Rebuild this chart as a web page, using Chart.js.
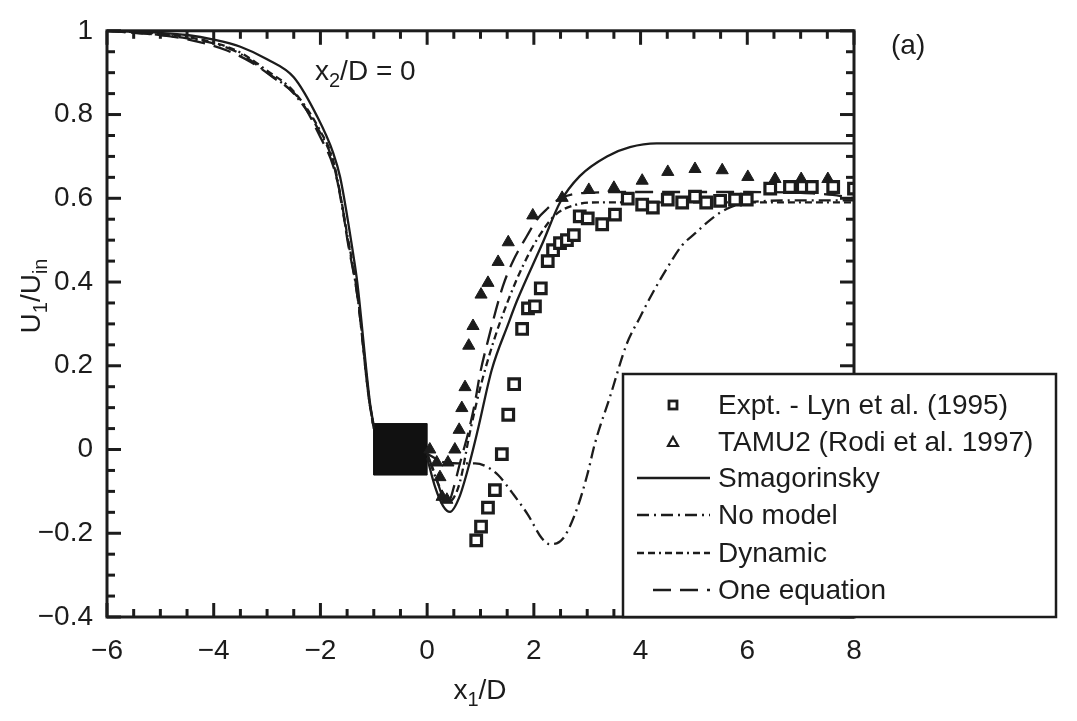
<!DOCTYPE html>
<html>
<head>
<meta charset="utf-8">
<script src="https://cdn.jsdelivr.net/npm/chart.js@4.4.1/dist/chart.umd.min.js"></script>
<style>
  html, body { margin: 0; padding: 0; background: #fff; }
  #wrap { width: 1077px; height: 721px; }
</style>
</head>
<body>
<div id="wrap"><canvas id="c" width="1077" height="721"></canvas></div>
<script>
// tick labels
const xTicks = [-6, -4, -2, 0, 2, 4, 6, 8];
const yTicks = [-0.4, -0.2, 0, 0.2, 0.4, 0.6, 0.8, 1];

// Expt. - Lyn et al. (1995)
const exptX = [0.92, 1.01, 1.14, 1.27, 1.40, 1.52, 1.63, 1.78, 1.89, 2.02, 2.13, 2.26, 2.36, 2.49, 2.62, 2.75, 2.86, 3.01,
  3.28, 3.52, 3.76, 4.03, 4.23, 4.51, 4.78, 5.02, 5.23, 5.49, 5.77, 5.99, 6.43, 6.80, 7.04, 7.21, 7.61, 8.0];
const exptY = [-0.217, -0.184, -0.139, -0.097, -0.011, 0.083, 0.156, 0.288, 0.337, 0.342, 0.385, 0.45, 0.476, 0.493, 0.50, 0.512, 0.557, 0.552,
  0.538, 0.561, 0.599, 0.585, 0.578, 0.597, 0.59, 0.604, 0.59, 0.594, 0.597, 0.597, 0.623, 0.627, 0.627, 0.627, 0.627, 0.623];

// TAMU2 (Rodi et al. 1997)
const tamuX = [0.05, 0.18, 0.24, 0.28, 0.37, 0.39, 0.52, 0.60, 0.65, 0.71, 0.78, 0.86, 1.01, 1.14, 1.33, 1.52, 1.98, 2.53,
  3.03, 3.50, 4.03, 4.51, 5.02, 5.53, 6.01, 6.52, 7.01, 7.51];
const tamuY = [0.0, -0.031, -0.066, -0.113, -0.12, -0.031, 0.0, 0.047, 0.099, 0.149, 0.248, 0.295, 0.37, 0.398, 0.448, 0.495, 0.559, 0.601,
  0.62, 0.625, 0.642, 0.663, 0.67, 0.667, 0.651, 0.646, 0.646, 0.646];

// Smagorinsky (null = gap across the cylinder)
const smagX = [-6, -5, -4.5, -4, -3.5, -3, -2.5, -2.06, -1.76, -1.63, -1.39, -1.31, -1.07, -1.0, -0.5,
  0, 0.15, 0.3, 0.43, 0.6, 0.8, 0.95, 1.21, 1.52, 1.68, 2.17, 2.49, 2.86, 3.37, 3.8, 4.3, 6, 8];
const smagY = [1.0, 0.995, 0.99, 0.979, 0.962, 0.932, 0.889, 0.795, 0.708, 0.65, 0.47, 0.40, 0.11, 0.057, null,
  -0.02, -0.09, -0.135, -0.149, -0.115, -0.03, 0.047, 0.19, 0.30, 0.354, 0.495, 0.59, 0.653, 0.70, 0.722, 0.731, 0.731, 0.731];

// No model
const noModelX = [-6, -5, -4.5, -4, -3.5, -3, -2.5, -2, -1.75, -1.5, -1.3, -1.1, -1.0, -0.5,
  0, 0.3, 0.6, 0.9, 1.1, 1.33, 1.61, 1.89, 2.15, 2.3, 2.55, 2.81, 3.0, 3.15, 3.43, 3.74, 3.99, 4.18, 4.51, 4.78, 5.02, 5.36, 5.62, 6.0, 7, 8];
const noModelY = [1.0, 0.99, 0.982, 0.97, 0.945, 0.9, 0.85, 0.755, 0.68, 0.51, 0.36, 0.13, 0.05, null,
  -0.01, -0.03, -0.033, -0.033, -0.04, -0.061, -0.106, -0.156, -0.212, -0.226, -0.212, -0.141, -0.061, 0.017, 0.127, 0.252, 0.316, 0.363, 0.436, 0.488, 0.516, 0.554, 0.575, 0.59, 0.595, 0.595];

// Dynamic
const dynX = [-6, -5, -4.5, -4, -3.5, -3, -2.5, -2, -1.75, -1.5, -1.3, -1.1, -1.0, -0.5,
  0, 0.2, 0.4, 0.5, 0.62, 0.8, 1.0, 1.25, 1.5, 1.8, 2.1, 2.4, 2.8, 3.2, 5, 8];
const dynY = [1.0, 0.993, 0.985, 0.972, 0.948, 0.905, 0.855, 0.76, 0.685, 0.515, 0.365, 0.135, 0.05, null,
  -0.01, -0.08, -0.125, -0.115, -0.075, 0.04, 0.15, 0.26, 0.35, 0.44, 0.51, 0.56, 0.585, 0.59, 0.59, 0.59];

// One equation
const oneEqX = [-6, -5.5, -5, -4.5, -3.75, -3.3, -2.89, -2.38, -2.01, -1.76, -1.6, -1.5, -1.3, -1.1, -1.0, -0.5,
  0, 0.15, 0.3, 0.4, 0.5, 0.6, 0.67, 0.77, 0.9, 0.99, 1.14, 1.42, 1.61, 1.87, 2.06, 2.25, 2.5, 3.0, 4, 5, 6, 7, 7.6, 8];
const oneEqY = [1.0, 0.995, 0.99, 0.98, 0.953, 0.925, 0.889, 0.835, 0.748, 0.677, 0.59, 0.505, 0.36, 0.13, 0.05, null,
  -0.01, -0.06, -0.115, -0.125, -0.09, -0.04, -0.007, 0.04, 0.115, 0.18, 0.26, 0.39, 0.45, 0.51, 0.55, 0.575, 0.60, 0.613, 0.615, 0.615, 0.615, 0.613, 0.608, 0.60];

// the square cylinder
const cylX = [-1, 0, 0, -1, -1];
const cylY = [-0.061, -0.061, 0.062, 0.062, -0.061];

const FONT = '"Liberation Sans", Arial, Helvetica, sans-serif';
const INK = '#1c1c1c';

function pts(xs, ys) {
  return xs.map((x, i) => ({ x: x, y: ys[i] }));
}

function lineSet(label, xs, ys, dash) {
  return {
    label: label,
    data: pts(xs, ys),
    showLine: true,
    borderColor: INK,
    borderWidth: 2.3,
    borderDash: dash,
    pointRadius: 0,
    fill: false,
    spanGaps: false,
    cubicInterpolationMode: 'monotone'
  };
}

function fmt(v) {
  const s = String(Math.round(Math.abs(v) * 100) / 100);
  return v < 0 ? '\u2212' + s : s;
}

// text with subscripts: parts = [[text, isSub], ...]
function drawParts(ctx, parts, x, y, size, align) {
  const subSize = Math.round(size * 0.7);
  let w = 0;
  parts.forEach(p => {
    ctx.font = (p[1] ? subSize : size) + 'px ' + FONT;
    w += ctx.measureText(p[0]).width;
  });
  let cx = align === 'center' ? x - w / 2 : x;
  ctx.textAlign = 'left';
  ctx.textBaseline = 'alphabetic';
  parts.forEach(p => {
    ctx.font = (p[1] ? subSize : size) + 'px ' + FONT;
    ctx.fillText(p[0], cx, p[1] ? y + size * 0.25 : y);
    cx += ctx.measureText(p[0]).width;
  });
}

const framePlugin = {
  id: 'frame',
  afterDraw(chart) {
    const ctx = chart.ctx;
    const a = chart.chartArea;
    const xs = chart.scales.x, ys = chart.scales.y;
    ctx.save();
    ctx.strokeStyle = INK;
    ctx.fillStyle = INK;

    // ticks inward on all four sides
    ctx.lineWidth = 3;
    const xMinor = [];
    for (let i = 0; i < xTicks.length - 1; i++) {
      const step = (xTicks[i + 1] - xTicks[i]) / 4;
      for (let k = 1; k < 4; k++) xMinor.push(xTicks[i] + k * step);
    }
    const yMinor = [];
    for (let i = 0; i < yTicks.length - 1; i++) {
      const step = (yTicks[i + 1] - yTicks[i]) / 4;
      for (let k = 1; k < 4; k++) yMinor.push(yTicks[i] + k * step);
    }
    const tick = (x1, y1, x2, y2) => { ctx.beginPath(); ctx.moveTo(x1, y1); ctx.lineTo(x2, y2); ctx.stroke(); };
    xTicks.forEach(v => { const p = xs.getPixelForValue(v); tick(p, a.bottom, p, a.bottom - 14); tick(p, a.top, p, a.top + 14); });
    xMinor.forEach(v => { const p = xs.getPixelForValue(v); tick(p, a.bottom, p, a.bottom - 8); tick(p, a.top, p, a.top + 8); });
    yTicks.forEach(v => { const p = ys.getPixelForValue(v); tick(a.left, p, a.left + 14, p); tick(a.right, p, a.right - 14, p); });
    yMinor.forEach(v => { const p = ys.getPixelForValue(v); tick(a.left, p, a.left + 8, p); tick(a.right, p, a.right - 8, p); });

    ctx.lineWidth = 3;
    ctx.strokeRect(a.left, a.top, a.right - a.left, a.bottom - a.top);

    // axis titles and annotations
    drawParts(ctx, [['x', false], ['1', true], ['/D', false]], 480, 699, 28, 'center');
    ctx.save();
    ctx.translate(40, 296);
    ctx.rotate(-Math.PI / 2);
    drawParts(ctx, [['U', false], ['1', true], ['/U', false], ['in', true]], 0, 0, 28, 'center');
    ctx.restore();
    drawParts(ctx, [['x', false], ['2', true], ['/D = 0', false]], 315, 80, 28, 'left');
    drawParts(ctx, [['(a)', false]], 891, 54, 28, 'left');

    // legend box
    const L = 623, T = 374, W = 433, H = 243;
    ctx.fillStyle = '#fff';
    ctx.fillRect(L, T, W, H);
    ctx.lineWidth = 2.5;
    ctx.strokeStyle = INK;
    ctx.strokeRect(L, T, W, H);
    ctx.fillStyle = INK;

    const rows = [405, 442, 478, 515, 553, 590];
    const ds = chart.data.datasets;
    ctx.font = '28px ' + FONT;
    ctx.textAlign = 'left';
    ctx.textBaseline = 'middle';
    for (let i = 0; i < 6; i++) {
      const d = ds[i];
      const y = rows[i];
      if (i === 0) {
        ctx.setLineDash([]);
        ctx.lineWidth = 2.8;
        ctx.strokeRect(669, y - 4, 8, 8);
      } else if (i === 1) {
        ctx.setLineDash([]);
        ctx.lineWidth = 2.2;
        ctx.beginPath();
        ctx.moveTo(673, y - 5); ctx.lineTo(678, y + 4); ctx.lineTo(668, y + 4); ctx.closePath();
        ctx.stroke();
      } else {
        ctx.setLineDash(d.borderDash || []);
        ctx.lineWidth = 2.3;
        ctx.beginPath();
        ctx.moveTo(i === 5 ? 653 : 637, y);
        ctx.lineTo(710, y);
        ctx.stroke();
        ctx.setLineDash([]);
      }
      ctx.fillText(d.label, 718, y + 1);
    }
    ctx.restore();
  }
};

new Chart(document.getElementById('c'), {
  type: 'scatter',
  data: {
    datasets: [
      {
        label: 'Expt. - Lyn et al. (1995)',
        data: pts(exptX, exptY),
        pointStyle: 'rect',
        pointRadius: 7.5,
        borderWidth: 3.2,
        borderColor: INK,
        backgroundColor: '#fff'
      },
      {
        label: 'TAMU2 (Rodi et al. 1997)',
        data: pts(tamuX, tamuY),
        pointStyle: 'triangle',
        pointRadius: 7,
        borderWidth: 1,
        borderColor: INK,
        backgroundColor: INK
      },
      lineSet('Smagorinsky', smagX, smagY, []),
      lineSet('No model', noModelX, noModelY, [12, 5, 2, 5]),
      lineSet('Dynamic', dynX, dynY, [7, 4, 7, 4, 2, 4]),
      lineSet('One equation', oneEqX, oneEqY, [18, 9]),
      {
        label: 'cylinder',
        data: pts(cylX, cylY),
        showLine: true,
        borderColor: '#111',
        borderWidth: 1,
        backgroundColor: '#111',
        pointRadius: 0,
        fill: 'shape',
        tension: 0
      }
    ]
  },
  options: {
    responsive: false,
    animation: false,
    layout: { padding: { left: 0, right: 223, top: 23, bottom: 0 } },
    plugins: {
      legend: { display: false },
      tooltip: { enabled: false }
    },
    scales: {
      x: {
        type: 'linear',
        min: -6, max: 8,
        afterFit: s => { s.height = 104; },
        afterBuildTicks: s => { s.ticks = xTicks.map(v => ({ value: v })); },
        grid: { display: false, drawTicks: false },
        border: { display: false },
        ticks: { callback: v => fmt(v), color: INK, font: { family: FONT, size: 28 }, padding: 17, maxRotation: 0 }
      },
      y: {
        type: 'linear',
        min: -0.4, max: 1,
        afterFit: s => { s.width = 107; },
        afterBuildTicks: s => { s.ticks = yTicks.map(v => ({ value: v })); },
        grid: { display: false, drawTicks: false },
        border: { display: false },
        ticks: { callback: v => fmt(v), color: INK, font: { family: FONT, size: 28 }, padding: 14 }
      }
    }
  },
  plugins: [framePlugin]
});
</script>
</body>
</html>
